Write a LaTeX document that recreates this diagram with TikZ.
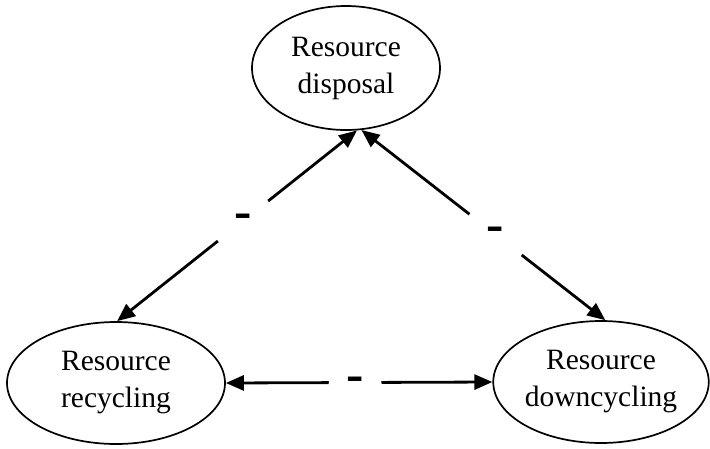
\documentclass[tikz,border=0pt]{standalone}
\usepackage{fontspec}
\setmainfont{Liberation Serif}
\usetikzlibrary{shapes.geometric,arrows.meta}

\newcommand{\minussign}{\scalebox{1.3}{\bfseries -}}

\tikzset{
  state/.style={ellipse, draw, line width=1.7pt, inner sep=0pt,
    align=center, font=\fontsize{29.5}{37}\selectfont},
  link/.style={line width=2.8pt,
    {Triangle[length=18pt,width=15pt]}-{Triangle[length=18pt,width=15pt]}},
  sign/.style={circle, fill=white, inner sep=0pt,
    font=\fontsize{40}{40}\selectfont}
}

\begin{document}
\begin{tikzpicture}[x=1pt,y=-1pt]
  \useasboundingbox (0,0) rectangle (710,448);

  % the three resource states
  \node[state, minimum width=188pt, minimum height=124pt] (disp) at (346,68)
    {Resource\\disposal};
  \node[state, minimum width=218pt, minimum height=122pt] (recy) at (116,383)
    {Resource\\recycling};
  \node[state, minimum width=212pt, minimum height=122pt] (down) at (601,382)
    {Resource\\downcycling};

  % negative links between the states
  \draw[link] (disp.-80) -- node[sign, minimum size=64pt, pos=0.475] {\minussign} (recy.89);
  \draw[link] (disp.-76) -- node[sign, minimum size=66pt, pos=0.55] {\minussign} (down.86);
  \draw[link] (recy.east) -- node[sign, minimum size=53pt, pos=0.485, yshift=-2pt] {\minussign} (down.west);
\end{tikzpicture}
\end{document}
